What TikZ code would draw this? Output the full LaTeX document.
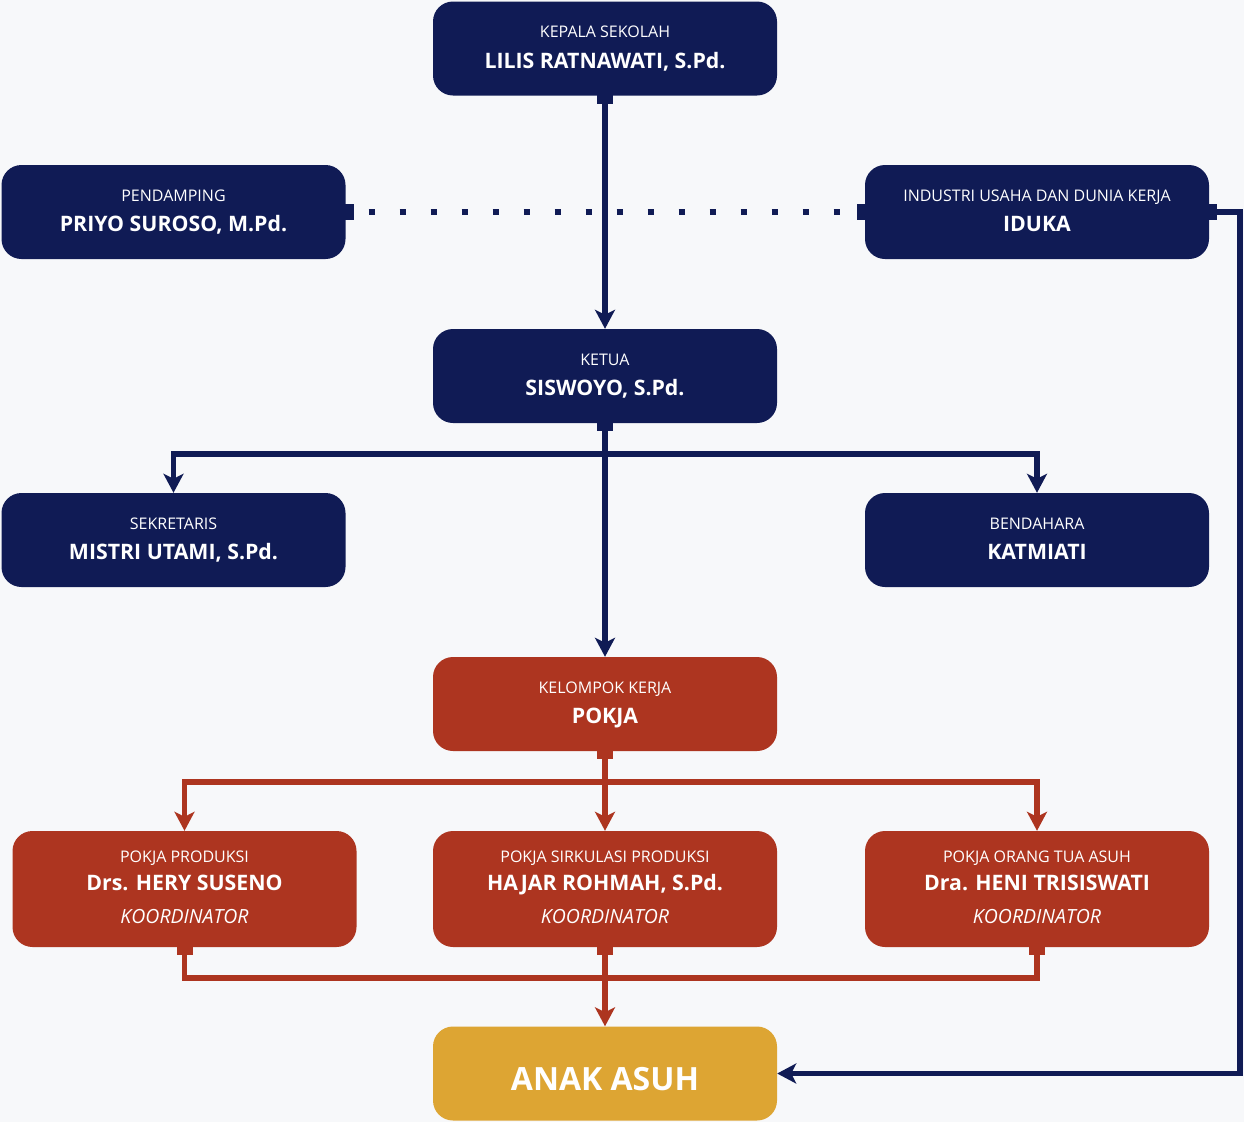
\documentclass[tikz,border=0pt]{standalone}
\usepackage{fontspec}
\setmainfont{Open Sans}
\usetikzlibrary{arrows.meta}
\definecolor{navy}{HTML}{101B55}
\definecolor{brick}{HTML}{AD3520}
\definecolor{gold}{HTML}{DDA533}
\definecolor{bgc}{HTML}{F7F8FA}
\begin{document}
\begin{tikzpicture}[x=1pt,y=-1pt,
  box/.style={rounded corners=20pt, minimum width=344pt, minimum height=94pt, inner sep=0pt, draw=none},
  nbox/.style={box, fill=navy},
  rbox/.style={box, fill=brick, minimum height=116pt},
  sub/.style={anchor=base, inner sep=0pt, text=white, font=\fontsize{16}{19}\selectfont},
  nm/.style={anchor=base, inner sep=0pt, text=white, font=\fontsize{21.3}{25}\selectfont\bfseries},
  koor/.style={anchor=base, inner sep=0pt, text=white, font=\fontsize{19.5}{23}\selectfont\itshape},
  tip/.style={-{Stealth[length=19pt,width=20pt,inset=5pt]}},
  conn/.style={line width=5.5pt, line join=miter},
  nline/.style={conn, draw=navy},
  rline/.style={conn, draw=brick}]
\fill[bgc] (0,0) rectangle (1244,1122);
\useasboundingbox (0,0) rectangle (1244,1122);

% boxes
\node[nbox] (kep) at (605,48.5) {};
\node[nbox] (pend) at (173.5,212) {};
\node[nbox] (idk) at (1037,212) {};
\node[nbox] (ket) at (605,376) {};
\node[nbox] (sek) at (173.5,540) {};
\node[nbox] (ben) at (1037,540) {};
\node[box, fill=brick] (pok) at (605,704) {};
\node[rbox] (pprod) at (184.5,889) {};
\node[rbox] (psirk) at (605,889) {};
\node[rbox] (porang) at (1037,889) {};
\node[box, fill=gold] (anak) at (605,1073.5) {};

% texts
\path (kep) ++(0,-10.8) node[sub] (kepa) {KEPALA SEKOLAH};
\path (kep) ++(0,19.8) node[nm] (kepb) {LILIS RATNAWATI, S.Pd.};
\path (pend) ++(0,-10.8) node[sub] (penda) {PENDAMPING};
\path (pend) ++(0,19.8) node[nm] (pendb) {PRIYO SUROSO, M.Pd.};
\path (idk) ++(0,-10.8) node[sub] (idka) {INDUSTRI USAHA DAN DUNIA KERJA};
\path (idk) ++(0,19.8) node[nm] (idkb) {IDUKA};
\path (ket) ++(0,-10.8) node[sub] (keta) {KETUA};
\path (ket) ++(0,19.8) node[nm] (ketb) {SISWOYO, S.Pd.};
\path (sek) ++(0,-10.8) node[sub] (seka) {SEKRETARIS};
\path (sek) ++(0,19.8) node[nm] (sekb) {MISTRI UTAMI, S.Pd.};
\path (ben) ++(0,-10.8) node[sub] (bena) {BENDAHARA};
\path (ben) ++(0,19.8) node[nm] (benb) {KATMIATI};
\path (pok) ++(0,-10.8) node[sub] (poka) {KELOMPOK KERJA};
\path (pok) ++(0,19.8) node[nm] (pokb) {POKJA};
\path (pprod) ++(0,-26.3) node[sub] (pproda) {POKJA PRODUKSI};
\path (pprod) ++(0,1.7) node[nm] (pprodb) {Drs. HERY SUSENO};
\path (pprod) ++(0,34.3) node[koor] (pprodc) {KOORDINATOR};
\path (psirk) ++(0,-26.3) node[sub] (psirka) {POKJA SIRKULASI PRODUKSI};
\path (psirk) ++(0,1.7) node[nm] (psirkb) {HAJAR ROHMAH, S.Pd.};
\path (psirk) ++(0,34.3) node[koor] (psirkc) {KOORDINATOR};
\path (porang) ++(0,-26.3) node[sub] (poranga) {POKJA ORANG TUA ASUH};
\path (porang) ++(0,1.7) node[nm] (porangb) {Dra. HENI TRISISWATI};
\path (porang) ++(0,34.3) node[koor] (porangc) {KOORDINATOR};
\path (anak) ++(0,16.5) node[anchor=base, inner sep=0pt, text=white, font=\fontsize{32}{38}\selectfont\bfseries] (anakt) {ANAK ASUH};

% tabs
\fill[navy] ([xshift=-8pt,yshift=1pt]kep.south) rectangle ++(16,9);
\fill[navy] ([xshift=-8pt,yshift=1pt]ket.south) rectangle ++(16,9);
\fill[brick] ([xshift=-8pt,yshift=1pt]pok.south) rectangle ++(16,9);
\fill[brick] ([xshift=-8pt,yshift=1pt]pprod.south) rectangle ++(16,9);
\fill[brick] ([xshift=-8pt,yshift=1pt]psirk.south) rectangle ++(16,9);
\fill[brick] ([xshift=-8pt,yshift=1pt]porang.south) rectangle ++(16,9);
\fill[navy] ([xshift=-1pt,yshift=8pt]pend.east) rectangle ++(9,16);
\fill[navy] ([xshift=1pt,yshift=8pt]idk.west) rectangle ++(-9,16);
\fill[navy] ([xshift=-1pt,yshift=8pt]idk.east) rectangle ++(9,16);

% coordinates
\coordinate (kj) at (605,454);
\coordinate (pj) at (605,782);
\coordinate (bj) at (605,978);
\coordinate (rc) at (1240,1073.5);

% navy connectors
\draw[nline, tip] (kep.south) -- (ket.north);
\draw[nline, line width=6pt, dash pattern=on 6pt off 25pt, dash phase=8pt] (pend.east) -- (idk.west);
\draw[nline, tip] (ket.south) -- (pok.north);
\draw[nline, tip] (kj) -| (sek.north);
\draw[nline, tip] (kj) -| (ben.north);
\draw[nline, tip] (idk.east) -| (rc) -- (anak.east);

% red connectors
\draw[rline, tip] (pok.south) -- (psirk.north);
\draw[rline, tip] (pj) -| (pprod.north);
\draw[rline, tip] (pj) -| (porang.north);
\draw[rline] (pprod.south) |- (bj);
\draw[rline] (porang.south) |- (bj);
\draw[rline, tip] (psirk.south) -- (anak.north);
\end{tikzpicture}
\end{document}
